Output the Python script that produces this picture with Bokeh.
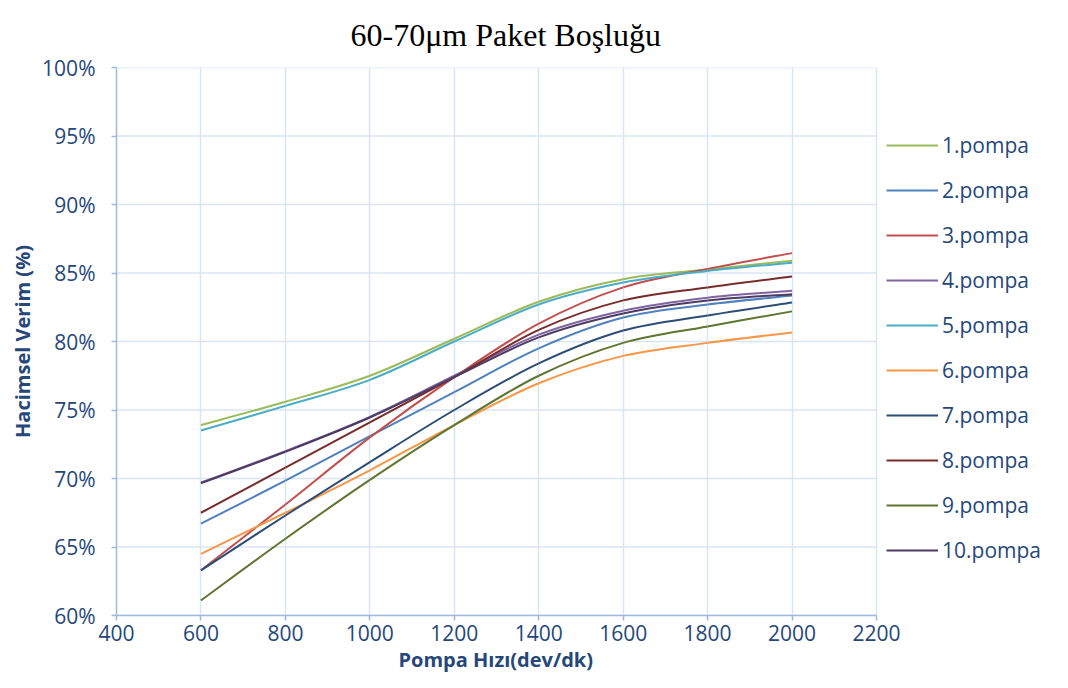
from bokeh.plotting import figure
from bokeh.models import (Range1d, SingleIntervalTicker, PrintfTickFormatter,
                          Legend, LegendItem, Title)
from bokeh.embed import file_html
from bokeh.resources import INLINE

# ---- data ----
speeds = [600, 800, 1000, 1200, 1400, 1600, 1800, 2000]

pompa_1 = [73.9, 75.6, 77.5, 80.2, 82.9, 84.55, 85.25, 85.9]
pompa_2 = [66.7, 69.85, 73.1, 76.3, 79.5, 81.75, 82.7, 83.35]
pompa_3 = [63.3, 68.1, 73.0, 77.4, 81.3, 83.95, 85.3, 86.45]
pompa_4 = [69.7, 72.0, 74.5, 77.5, 80.5, 82.25, 83.2, 83.7]
pompa_5 = [73.5, 75.3, 77.2, 80.0, 82.7, 84.3, 85.15, 85.75]
pompa_6 = [64.5, 67.5, 70.6, 73.9, 76.95, 78.95, 79.9, 80.65]
pompa_7 = [63.3, 67.3, 71.2, 75.0, 78.4, 80.8, 81.9, 82.85]
pompa_8 = [67.5, 70.8, 74.1, 77.4, 80.85, 83.0, 83.95, 84.75]
pompa_9 = [61.1, 65.6, 69.9, 73.9, 77.5, 79.9, 81.1, 82.2]
pompa_10 = [69.65, 71.95, 74.45, 77.4, 80.3, 82.05, 83.0, 83.45]

series_names = ["1.pompa", "2.pompa", "3.pompa", "4.pompa", "5.pompa",
                "6.pompa", "7.pompa", "8.pompa", "9.pompa", "10.pompa"]
series_values = [pompa_1, pompa_2, pompa_3, pompa_4, pompa_5,
                 pompa_6, pompa_7, pompa_8, pompa_9, pompa_10]
colors = ["#9BBB59", "#4F81BD", "#C0504D", "#8064A2", "#4BACC6",
          "#F79646", "#2C4D75", "#772C2A", "#5F7530", "#4D3B62"]

y_ticks = [60, 65, 70, 75, 80, 85, 90, 95, 100]
x_min, x_max = 400, 2200

title_text = "60-70\u03bcm Paket Bo\u015flu\u011fu"
x_title = "Pompa H\u0131z\u0131(dev/dk)"
y_title = "Hacimsel Verim (%)"

TEXT_COLOR = "#25477A"
GRID = "#DAE5F3"
AXIS = "#9DB9E0"
FONT = "Open Sans"

# The frame is widened to the right so the legend can sit beside the plot
# area; axis and grid are bounded to the 400-2200 interval.
p = figure(width=1052, height=672, output_backend="svg", toolbar_location=None,
           x_range=Range1d(x_min, 2616.8), y_range=Range1d(60, 100),
           min_border_left=116, min_border_right=0,
           min_border_top=67, min_border_bottom=57,
           background_fill_color="white", border_fill_color="white")
p.outline_line_color = None

p.title = Title(text=title_text, align="left", offset=234,
                vertical_align="middle",
                text_font="Liberation Serif", text_font_size="32px",
                text_font_style="normal", text_color="black", standoff=28)

# axes
p.xaxis.ticker = SingleIntervalTicker(interval=200)
p.yaxis.ticker = SingleIntervalTicker(interval=5)
p.yaxis.formatter = PrintfTickFormatter(format="%d%%")
p.xaxis.bounds = (x_min, x_max)
for ax in (p.xaxis[0], p.yaxis[0]):
    ax.axis_line_color = AXIS
    ax.axis_line_width = 1.5
    ax.major_tick_line_color = AXIS
    ax.major_tick_line_width = 1.5
    ax.major_tick_out = 5
    ax.major_tick_in = 0
    ax.minor_tick_line_color = None
    ax.major_label_text_font = FONT
    ax.major_label_text_font_size = "21px"
    ax.major_label_text_color = TEXT_COLOR
    ax.axis_label_text_font = FONT
    ax.axis_label_text_font_size = "20px"
    ax.axis_label_text_font_style = "bold"
    ax.axis_label_text_color = TEXT_COLOR
p.yaxis.axis_label = y_title
p.xaxis.major_label_standoff = 4
p.yaxis.major_label_standoff = 16
p.yaxis.axis_label_standoff = 3

xt = Title(text=x_title, align="left", offset=282, text_font=FONT,
           text_font_size="20px", text_font_style="bold",
           text_color=TEXT_COLOR, standoff=0)
p.add_layout(xt, "below")

p.xgrid.grid_line_color = GRID
p.xgrid.grid_line_width = 1.5
p.ygrid.grid_line_color = None
# horizontal grid lines limited to the axis interval
p.segment(x0=[x_min] * len(y_ticks), x1=[x_max] * len(y_ticks),
          y0=y_ticks, y1=y_ticks, line_color=GRID, line_width=1.5)

# smoothed curves (Catmull-Rom style Bezier, like spreadsheet smoothed lines)
items = []
n = len(speeds)
for name, vals, col in zip(series_names, series_values, colors):
    x0s, y0s, x1s, y1s, cx0s, cy0s, cx1s, cy1s = [], [], [], [], [], [], [], []
    for i in range(n - 1):
        a = max(i - 1, 0)
        d = min(i + 2, n - 1)
        x0s.append(speeds[i]); y0s.append(vals[i])
        x1s.append(speeds[i + 1]); y1s.append(vals[i + 1])
        cx0s.append(speeds[i] + (speeds[i + 1] - speeds[a]) / 6.0)
        cy0s.append(vals[i] + (vals[i + 1] - vals[a]) / 6.0)
        cx1s.append(speeds[i + 1] - (speeds[d] - speeds[i]) / 6.0)
        cy1s.append(vals[i + 1] - (vals[d] - vals[i]) / 6.0)
    r = p.bezier(x0=x0s, y0=y0s, x1=x1s, y1=y1s, cx0=cx0s, cy0=cy0s,
                 cx1=cx1s, cy1=cy1s, line_color=col, line_width=2)
    items.append(LegendItem(label=name, renderers=[r]))

legend = Legend(items=items, location=(770, 51), padding=0, margin=0,
                spacing=17, glyph_width=52, glyph_height=28, label_height=28,
                label_standoff=4, label_text_font=FONT,
                label_text_font_size="21px", label_text_color=TEXT_COLOR,
                border_line_color=None, background_fill_alpha=0)
p.add_layout(legend, "center")

open("out.html", "w").write(file_html(p, INLINE))
